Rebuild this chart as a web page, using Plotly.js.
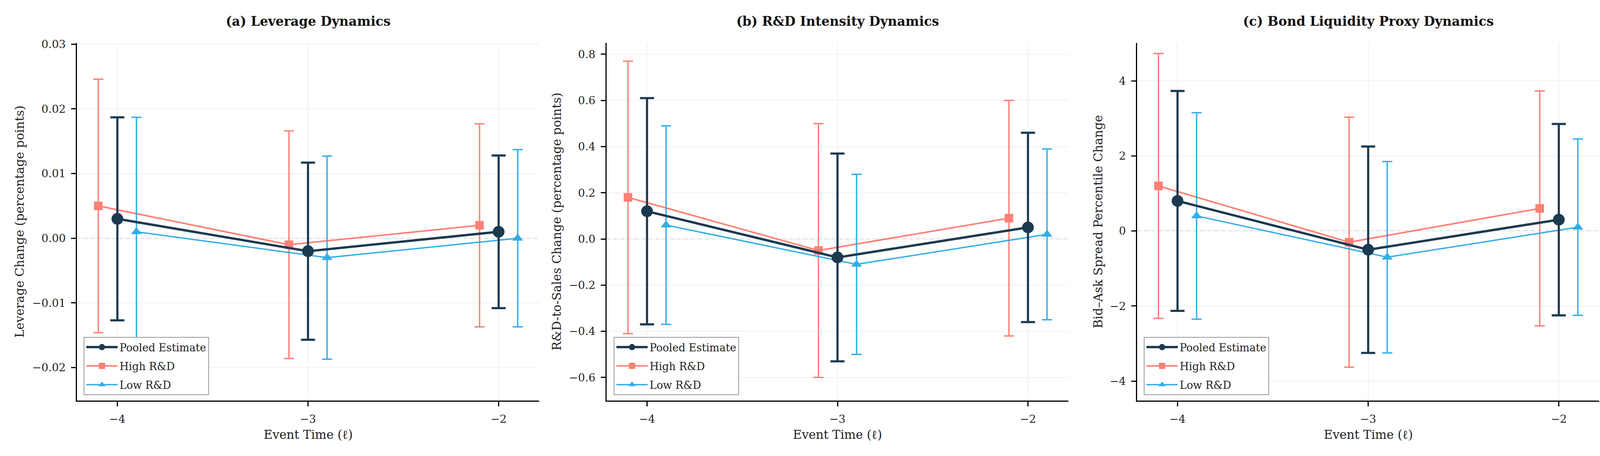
<!DOCTYPE html>
<html>
<head>
<meta charset="utf-8">
<script src="https://cdn.plot.ly/plotly-3.0.1.min.js"></script>
<style>
  html, body { margin: 0; padding: 0; background: #fff; }
  #chart { width: 4120px; height: 1168px; }
</style>
</head>
<body>
<div id="chart"></div>
<script>
// event times and group offsets
const eventTimes = [-4, -3, -2];
const groupOffset = 0.1;
const tickLabels = ['\u22124', '\u22123', '\u22122'];

// (a) leverage: point estimates and CI half-widths
const levPooled = [0.003, -0.002, 0.001];
const levPooledErr = [0.0157, 0.0137, 0.0118];
const levHigh = [0.005, -0.001, 0.002];
const levHighErr = [0.0196, 0.0176, 0.0157];
const levLow = [0.001, -0.003, 0.000];
const levLowErr = [0.0177, 0.0157, 0.0137];

// (b) R&D intensity
const rdPooled = [0.12, -0.08, 0.05];
const rdPooledErr = [0.49, 0.45, 0.41];
const rdHigh = [0.18, -0.05, 0.09];
const rdHighErr = [0.59, 0.55, 0.51];
const rdLow = [0.06, -0.11, 0.02];
const rdLowErr = [0.43, 0.39, 0.37];

// (c) bond liquidity
const liqPooled = [0.8, -0.5, 0.3];
const liqPooledErr = [2.93, 2.75, 2.55];
const liqHigh = [1.2, -0.3, 0.6];
const liqHighErr = [3.53, 3.33, 3.13];
const liqLow = [0.4, -0.7, 0.1];
const liqLowErr = [2.75, 2.55, 2.35];

const seriesNames = ['Pooled Estimate', 'High R&D', 'Low R&D'];
const panelTitles = ['(a) Leverage Dynamics', '(b) R&D Intensity Dynamics', '(c) Bond Liquidity Proxy Dynamics'];
const yTitles = ['Leverage Change (percentage points)', 'R&D-to-Sales Change (percentage points)', 'Bid\u2013Ask Spread Percentile Change'];
const xTitle = 'Event Time (\u2113)';

const FONT = 'DejaVu Serif';
const NAVY = '#1b3a50';
const RED = '#ff6b5e';
const BLUE = '#1ea6e3';

const panels = [
    {pooled: levPooled, pooledErr: levPooledErr, high: levHigh, highErr: levHighErr, low: levLow, lowErr: levLowErr,
     range: [-0.0251, 0.0302], dtick: 0.01, fmt: '.2f', yTitleX: 50},
    {pooled: rdPooled, pooledErr: rdPooledErr, high: rdHigh, highErr: rdHighErr, low: rdLow, lowErr: rdLowErr,
     range: [-0.70, 0.849], dtick: 0.2, fmt: '.1f', yTitleX: 1425},
    {pooled: liqPooled, pooledErr: liqPooledErr, high: liqHigh, highErr: liqHighErr, low: liqLow, lowErr: liqLowErr,
     range: [-4.52, 5.01], dtick: 2, fmt: 'd', yTitleX: 2811}
];

const W = 4120, H = 1168;
const xDomains = [[197 / W, 1380 / W], [1553 / W, 2735 / W], [2911 / W, 4094 / W]];
const yDomain = [(H - 1026) / H, (H - 110) / H];
const legendLeft = [214, 1571, 2928];

const data = [];
const layout = {
    width: W,
    height: H,
    margin: {l: 0, r: 0, t: 0, b: 0},
    paper_bgcolor: '#fff',
    plot_bgcolor: '#fff',
    font: {family: FONT, color: '#222', size: 27},
    annotations: [],
    shapes: []
};

panels.forEach((p, i) => {
    const n = i === 0 ? '' : String(i + 1);
    const xa = 'x' + n, ya = 'y' + n;
    const leg = 'legend' + n;

    const highX = eventTimes.map(t => t - groupOffset);
    const lowX = eventTimes.map(t => t + groupOffset);

    data.push({
        x: highX, y: p.high, type: 'scatter', mode: 'lines+markers',
        name: seriesNames[1], xaxis: xa, yaxis: ya, legend: leg, legendrank: 2,
        legendgroup: 'high' + i, opacity: 0.85,
        line: {color: RED, width: 4},
        marker: {symbol: 'square', size: 22, color: RED},
        error_y: {type: 'data', array: p.highErr, visible: true, color: RED, thickness: 3.5, width: 13}
    });
    data.push({
        x: lowX, y: p.low, type: 'scatter', mode: 'lines+markers',
        name: seriesNames[2], xaxis: xa, yaxis: ya, legend: leg, legendrank: 3,
        legendgroup: 'low' + i, opacity: 0.9,
        line: {color: BLUE, width: 3.5},
        marker: {symbol: 'triangle-up', size: 24, color: BLUE},
        error_y: {type: 'data', array: p.lowErr, visible: true, color: BLUE, thickness: 3.5, width: 13}
    });
    data.push({
        x: eventTimes, y: p.pooled, type: 'scatter', mode: 'lines+markers',
        name: seriesNames[0], xaxis: xa, yaxis: ya, legend: leg, legendrank: 1,
        legendgroup: 'pooled' + i,
        line: {color: NAVY, width: 6},
        marker: {symbol: 'circle', size: 30, color: NAVY},
        error_y: {type: 'data', array: p.pooledErr, visible: true, color: NAVY, thickness: 5.5, width: 18}
    });

    layout['xaxis' + n] = {
        domain: xDomains[i], anchor: ya, range: [-4.212, -1.788],
        tickvals: eventTimes, ticktext: tickLabels,
        showline: true, linecolor: '#000', linewidth: 3, mirror: false,
        ticks: 'outside', ticklen: 12, tickwidth: 3, tickcolor: '#000',
        ticklabelstandoff: 8,
        showgrid: true, gridcolor: '#f1f1f1', gridwidth: 2, zeroline: false,
        tickfont: {size: 28, family: FONT, color: '#222'}
    };
    layout['yaxis' + n] = {
        domain: yDomain, anchor: xa, range: p.range,
        dtick: p.dtick, tick0: 0, tickformat: p.fmt,
        showline: true, linecolor: '#000', linewidth: 3, mirror: false,
        ticks: 'outside', ticklen: 12, tickwidth: 3, tickcolor: '#000',
        ticklabelstandoff: 8,
        showgrid: true, gridcolor: '#f1f1f1', gridwidth: 2, zeroline: false,
        tickfont: {size: 28, family: FONT, color: '#222'}
    };

    layout[leg] = {
        x: legendLeft[i] / W, y: (H - 1012) / H, xanchor: 'left', yanchor: 'bottom',
        xref: 'paper', yref: 'paper',
        bgcolor: 'rgba(255,255,255,0.9)', bordercolor: '#9a9a9a', borderwidth: 2,
        font: {size: 27, family: FONT, color: '#222'},
        itemwidth: 80, tracegroupgap: 10, traceorder: 'grouped'
    };

    layout.shapes.push({
        type: 'line', xref: xa + ' domain', x0: 0, x1: 1, yref: ya, y0: 0, y1: 0,
        line: {color: '#bdbdbd', width: 3, dash: 'dash'}, layer: 'below'
    });

    const cx = (xDomains[i][0] + xDomains[i][1]) / 2;
    layout.annotations.push({
        text: '<b>' + panelTitles[i] + '</b>', xref: 'paper', yref: 'paper',
        x: cx, y: (H - 54) / H, xanchor: 'center', yanchor: 'middle', showarrow: false,
        font: {size: 33, family: FONT, color: '#111'}
    });
    layout.annotations.push({
        text: xTitle, xref: 'paper', yref: 'paper',
        x: cx, y: (H - 1113) / H, xanchor: 'center', yanchor: 'middle', showarrow: false,
        font: {size: 31, family: FONT, color: '#222'}
    });
    layout.annotations.push({
        text: yTitles[i], xref: 'paper', yref: 'paper', textangle: -90,
        x: p.yTitleX / W, y: (H - 568) / H, xanchor: 'center', yanchor: 'middle', showarrow: false,
        font: {size: 31, family: FONT, color: '#222'}
    });
});

Plotly.newPlot('chart', data, layout, {displayModeBar: false, staticPlot: true});
</script>
</body>
</html>
